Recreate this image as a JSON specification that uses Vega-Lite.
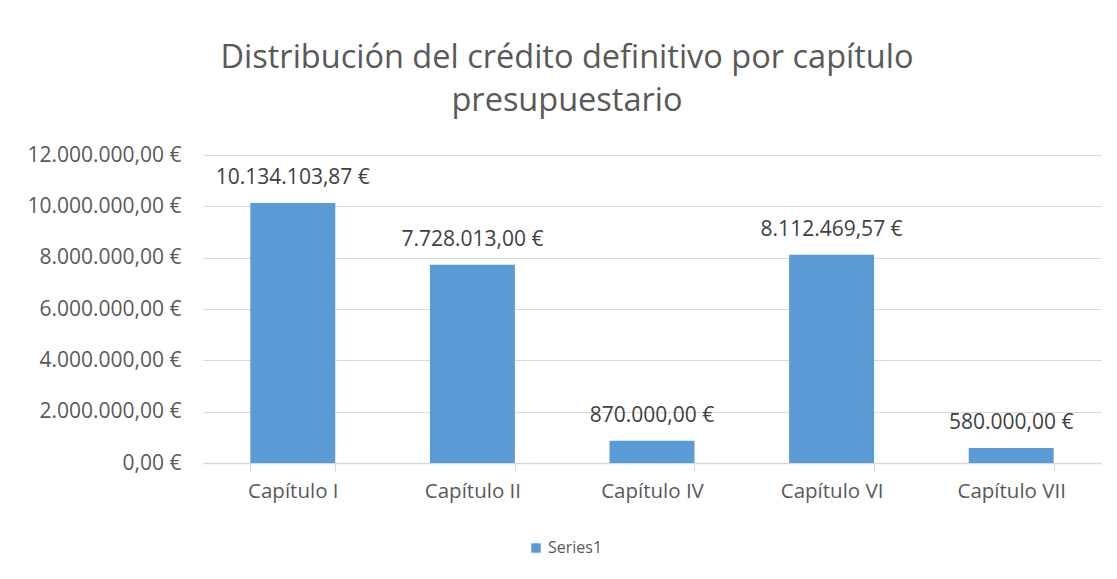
{
  "$schema": "https://vega.github.io/schema/vega-lite/v6.json",
  "autosize": {"type": "none"},
  "width": 898,
  "height": 308,
  "padding": {"left": 203, "top": 155, "right": 16, "bottom": 116},
  "background": "white",
  "title": {
    "text": ["Distribución del crédito definitivo por capítulo", "presupuestario"],
    "font": "Open Sans",
    "fontSize": 32.5,
    "fontWeight": "normal",
    "color": "#595959",
    "lineHeight": 43,
    "anchor": "middle",
    "frame": "group",
    "dx": -85,
    "offset": 27
  },
  "data": {
    "values": [
      {"capitulo": "Capítulo I", "credito": 10134103.87, "serie": "Series1"},
      {"capitulo": "Capítulo II", "credito": 7728013.00, "serie": "Series1"},
      {"capitulo": "Capítulo IV", "credito": 870000.00, "serie": "Series1"},
      {"capitulo": "Capítulo VI", "credito": 8112469.57, "serie": "Series1"},
      {"capitulo": "Capítulo VII", "credito": 580000.00, "serie": "Series1"}
    ]
  },
  "encoding": {
    "x": {
      "field": "capitulo",
      "type": "nominal",
      "sort": null,
      "title": null,
      "scale": {"paddingInner": 0.527, "paddingOuter": 0.2635},
      "axis": {
        "labelAngle": 0,
        "tickBand": "extent",
        "tickSize": 8,
        "tickColor": "#d9d9d9",
        "domainColor": "#d9d9d9",
        "domainWidth": 1.5,
        "labelFont": "Open Sans",
        "labelFontSize": 20.5,
        "labelColor": "#595959",
        "labelPadding": 10
      }
    },
    "y": {
      "field": "credito",
      "type": "quantitative",
      "title": null,
      "scale": {"domain": [0, 12000000]},
      "axis": {
        "values": [0, 2000000, 4000000, 6000000, 8000000, 10000000, 12000000],
        "format": "$,.2f",
        "domain": false,
        "ticks": false,
        "gridColor": "#d9d9d9",
        "gridWidth": 1.2,
        "labelFont": "Open Sans",
        "labelFontSize": 21,
        "labelColor": "#595959",
        "labelPadding": 22
      }
    }
  },
  "layer": [
    {
      "mark": {"type": "bar", "color": "#5b9bd5"},
      "encoding": {
        "color": {
          "field": "serie",
          "type": "nominal",
          "scale": {"range": ["#5b9bd5"]},
          "legend": {
            "title": null,
            "orient": "none",
            "legendX": 325,
            "legendY": 385,
            "direction": "horizontal",
            "symbolType": "square",
            "symbolSize": 90,
            "symbolStrokeWidth": 0,
            "labelFont": "Open Sans",
            "labelFontSize": 16,
            "labelColor": "#595959"
          }
        }
      }
    },
    {
      "mark": {
        "type": "text",
        "font": "Open Sans",
        "fontSize": 21,
        "color": "#404040",
        "baseline": "alphabetic",
        "dy": -19
      },
      "encoding": {
        "text": {"field": "credito", "type": "quantitative", "format": "$,.2f"}
      }
    }
  ],
  "config": {
    "view": {"stroke": null},
    "locale": {
      "number": {
        "decimal": ",",
        "thousands": ".",
        "grouping": [3],
        "currency": ["", " €"]
      }
    }
  }
}
